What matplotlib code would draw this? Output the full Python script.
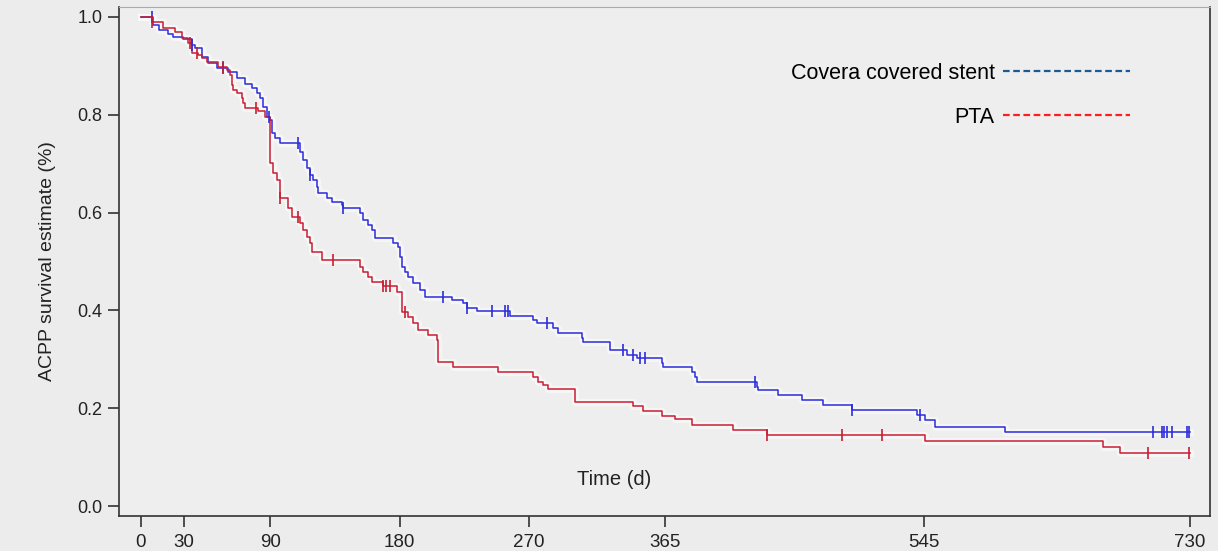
import numpy as np
import matplotlib
matplotlib.use('Agg')
import matplotlib.pyplot as plt
from matplotlib.lines import Line2D
from matplotlib import font_manager

# Kaplan-Meier steps: day of drop and survival after the drop
covera_days = [8.4, 12.5, 18.8, 22.3, 29.2, 35.5, 37.6, 42.4, 46.6, 52.9, 60.5, 66.8,
               72.4, 77.2, 80.7, 82.8, 84.9, 87.7, 89.8, 91.2, 93.2, 96.7, 110.6, 112.7,
               115.5, 117.6, 119.7, 122.5, 123.2, 129.4, 132.9, 139.9, 140.6, 152.4, 154.5,
               158.0, 160.8, 162.8, 175.4, 178.8, 180.2, 181.6, 183.7, 185.8, 189.3, 194.2,
               197.6, 216.4, 224.1, 226.9, 233.8, 256.8, 272.8, 275.6, 286.7, 290.2, 306.9,
               307.6, 326.4, 338.2, 345.2, 362.6, 363.3, 383.4, 385.5, 386.9, 428.7, 429.4,
               443.3, 460.0, 474.6, 494.8, 540.0, 545.6, 552.5, 601.3]
covera_surv = [0.984, 0.973, 0.966, 0.960, 0.955, 0.943, 0.937, 0.918, 0.906, 0.896, 0.888, 0.875,
               0.863, 0.855, 0.845, 0.834, 0.816, 0.796, 0.789, 0.763, 0.753, 0.742, 0.724, 0.708,
               0.691, 0.677, 0.667, 0.652, 0.640, 0.630, 0.622, 0.616, 0.609, 0.599, 0.585,
               0.575, 0.564, 0.548, 0.538, 0.530, 0.509, 0.489, 0.479, 0.468, 0.456, 0.442,
               0.427, 0.421, 0.415, 0.405, 0.399, 0.389, 0.380, 0.374, 0.364, 0.354, 0.344,
               0.335, 0.319, 0.309, 0.303, 0.292, 0.284, 0.274, 0.264, 0.254, 0.243, 0.237,
               0.227, 0.217, 0.207, 0.196, 0.186, 0.176, 0.162, 0.151]
covera_censor = [7.7, 35.5, 57.1, 89.1, 109.3, 117.6, 140.6, 210.2, 226.9, 244.3, 253.3, 255.4,
                 282.5, 335.4, 342.4, 347.3, 350.7, 427.3, 494.8, 542.1, 704.2, 710.5, 711.9,
                 714.0, 717.5, 727.9, 729.3]

pta_days = [7.7, 15.3, 23.7, 28.5, 32.7, 35.5, 39.7, 42.4, 45.9, 53.6, 59.8, 61.9, 63.3, 64.0,
            66.8, 70.3, 71.0, 72.4, 81.4, 86.3, 89.8, 91.9, 94.6, 96.7, 102.3, 105.1, 110.6,
            112.7, 115.5, 117.6, 119.0, 126.0, 152.4, 154.5, 158.0, 160.8, 168.4, 178.1,
            181.6, 185.8, 189.3, 192.8, 199.7, 206.0, 206.7, 217.1, 248.4, 272.8, 276.3,
            279.7, 283.2, 302.0, 342.4, 349.3, 362.6, 371.6, 383.4, 411.9, 435.6, 545.6,
            669.4, 681.3]
pta_surv = [0.990, 0.978, 0.969, 0.957, 0.947, 0.926, 0.922, 0.916, 0.908, 0.898, 0.892, 0.881,
            0.861, 0.851, 0.845, 0.834, 0.824, 0.814, 0.808, 0.796, 0.701, 0.681, 0.667, 0.630,
            0.609, 0.591, 0.579, 0.564, 0.550, 0.538, 0.519, 0.503, 0.489, 0.479, 0.468, 0.458,
            0.450, 0.438, 0.397, 0.387, 0.374, 0.360, 0.350, 0.339, 0.294, 0.284, 0.274,
            0.264, 0.254, 0.247, 0.239, 0.213, 0.204, 0.194, 0.184, 0.177, 0.166, 0.155,
            0.145, 0.133, 0.121, 0.109]
pta_censor = [8.0, 34.1, 39.0, 57.1, 80.0, 96.7, 109.3, 133.6, 168.4, 170.5, 173.3, 183.7,
              435.6, 487.8, 515.7, 700.8, 729.3]

end_day = 730
x_ticks = [0, 30, 90, 180, 270, 365, 545, 730]
y_ticks = [0.0, 0.2, 0.4, 0.6, 0.8, 1.0]

plt.rcParams['font.family'] = ['Liberation Sans', 'DejaVu Sans']

names = set(f.name for f in font_manager.fontManager.ttflist)
if 'Liberation Sans Narrow' in names:
    xtick_font = 'Liberation Sans Narrow'
    xtick_size = 15.5
else:
    xtick_font = 'Liberation Sans'
    xtick_size = 13.5

bg = '#ececec'
fig = plt.figure(figsize=(12.18, 5.51), dpi=100, facecolor=bg)
ax = fig.add_axes([0.0977, 0.0635, 0.8957, 0.9238])
ax.set_facecolor('#eeeeee')


def km_curve(days, surv):
    t = np.array([0] + days + [end_day])
    s = np.array([1.0] + surv + [surv[-1]])
    return t, s


def censor_levels(t, s, cens):
    idx = np.searchsorted(t, cens, side='right') - 1
    return s[idx]


curves = [(covera_days, covera_surv, covera_censor, '#2d2ddc'),
          (pta_days, pta_surv, pta_censor, '#c81e32')]

# faint white halo behind the lines, like the scanned original
for days, surv, cens, col in curves:
    t, s = km_curve(days, surv)
    ax.plot(t, s, drawstyle='steps-post', color='white', lw=5, alpha=0.5, zorder=1)

for days, surv, cens, col in curves:
    t, s = km_curve(days, surv)
    ax.plot(t, s, drawstyle='steps-post', color=col, lw=1.1, zorder=3)
    ax.plot(cens, censor_levels(t, s, cens), ls='none', marker='|', ms=9, mew=1.2,
            color=col, zorder=4)

ax.set_xlim(-15.3, 744)
ax.set_ylim(-0.0204, 1.0204)
ax.set_xticks(x_ticks)
ax.set_xticklabels([str(v) for v in x_ticks], fontfamily=xtick_font, fontsize=xtick_size)
ax.set_yticks(y_ticks)
ax.set_yticklabels(['%.1f' % v for v in y_ticks], fontsize=13)
ax.tick_params(axis='y', direction='out', length=8, width=1.2, colors='#333333',
               labelcolor='#222222', pad=4)
ax.tick_params(axis='x', direction='out', length=8, width=1.2, colors='#333333',
               labelcolor='#222222', pad=5)

for side in ['left', 'bottom', 'right']:
    ax.spines[side].set_color('#333333')
    ax.spines[side].set_linewidth(1.2)
ax.spines['top'].set_color('#aaaaaa')
ax.spines['top'].set_linewidth(0.8)

ax.set_ylabel('ACPP survival estimate (%)', fontsize=14, color='#222222', labelpad=15)
ax.text(0.4537, 0.0727, 'Time (d)', transform=ax.transAxes, fontsize=14.5,
        color='#222222', ha='center', va='center')

handles = [Line2D([], [], color='#1a5a96', lw=1.6, dashes=(3, 1.6)),
           Line2D([], [], color='#ff1e1e', lw=1.6, dashes=(3, 1.6))]
ax.legend(handles, ['Covera covered stent', 'PTA'], markerfirst=False, frameon=False,
          loc='upper right', bbox_to_anchor=(0.9267, 0.890), borderpad=0, borderaxespad=0,
          handlelength=5.9, handletextpad=0.38, labelspacing=1.06, fontsize=15.5)

fig.savefig('out.png', dpi=100, facecolor=bg)
